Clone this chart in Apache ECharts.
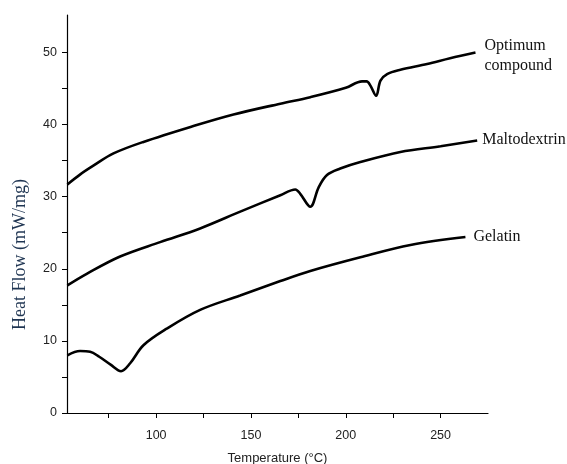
<!DOCTYPE html>
<html>
<head>
<meta charset="utf-8">
<script src="https://cdn.jsdelivr.net/npm/echarts@6/dist/echarts.min.js"></script>
<style>
  html, body { margin: 0; padding: 0; background: #fff; }
  #chart { width: 567px; height: 464px; }
</style>
</head>
<body>
<div id="chart"></div>
<script>
// 读图估计的数据 (温度 °C, 热流 mW/mg)
var optimumT  = [53.2, 60, 66.9, 77.5, 93.3, 119.7, 140.8, 165.5, 181.3, 200, 208.6, 211, 213, 216, 218.3, 221.8, 228.8, 242.9, 255, 268.4];
var optimumHF = [31.7, 33.1, 34.3, 36.0, 37.6, 39.8, 41.4, 42.9, 43.8, 45.1, 46.0, 46.0, 45.4, 44.0, 46.1, 47.0, 47.6, 48.4, 49.2, 50.0];

var maltoT  = [53.2, 63.4, 81, 102.1, 123.2, 145, 165.5, 173.4, 176, 181.3, 185.7, 190.1, 197.1, 207.7, 228.8, 250, 269.3];
var maltoHF = [17.7, 19.3, 21.7, 23.7, 25.6, 28.0, 30.2, 31.0, 30.4, 28.6, 31.3, 33.0, 33.9, 34.8, 36.2, 37.0, 37.8];

var gelatinT  = [53.2, 59.9, 65.2, 70, 76, 81.5, 86.3, 93.3, 105.6, 123.2, 144.3, 165.5, 181.3, 207.7, 234.1, 263.1];
var gelatinHF = [8.0, 8.6, 8.5, 7.8, 6.7, 5.8, 6.9, 9.4, 11.7, 14.3, 16.3, 18.3, 19.7, 21.6, 23.3, 24.4];

var seriesNames = ['Optimum\ncompound', 'Maltodextrin', 'Gelatin'];
var xTicks = [75, 100, 125, 150, 175, 200, 225, 250];
var xLabels = [100, 150, 200, 250];
var yTicks = [0, 5, 10, 15, 20, 25, 30, 35, 40, 45, 50];
var yLabels = [0, 10, 20, 30, 40, 50];

function pairs(xs, ys) {
    var out = [];
    for (var i = 0; i < xs.length; i++) {
        out.push([xs[i], ys[i]]);
    }
    return out;
}

var myChart = echarts.init(document.getElementById('chart'));

var tickFont = ['Liberation Sans Narrow', 'Liberation Sans', 'sans-serif'].join(',');

function lineSeries(name, data, offset) {
    return {
        name: name,
        type: 'line',
        data: data,
        smooth: 0.35,
        symbol: 'none',
        animation: false,
        lineStyle: { color: '#000', width: 2.6 },
        endLabel: {
            show: true,
            formatter: name,
            distance: 6,
            offset: offset,
            fontFamily: 'Liberation Serif',
            fontSize: 16,
            lineHeight: 20,
            color: '#111'
        }
    };
}

var option = {
    backgroundColor: '#fff',
    grid: { left: 67, right: 79, top: 15, bottom: 51, outerBoundsMode: 'none' },
    xAxis: {
        type: 'value',
        min: 53,
        max: 275,
        name: 'Temperature (°C)',
        nameLocation: 'middle',
        nameGap: 39,
        nameTextStyle: { fontFamily: 'Liberation Sans', fontSize: 13, color: '#222' },
        splitLine: { show: false },
        axisLine: { show: true, lineStyle: { color: '#000', width: 1.2 } },
        axisTick: { show: true, customValues: xTicks, length: 5, lineStyle: { color: '#000' } },
        axisLabel: { customValues: xLabels, fontFamily: tickFont, fontSize: 12.5, color: '#222', margin: 16 }
    },
    yAxis: {
        type: 'value',
        min: 0,
        max: 55.2,
        splitLine: { show: false },
        axisLine: { show: true, lineStyle: { color: '#000', width: 1.2 } },
        axisTick: { show: true, customValues: yTicks, length: 5, lineStyle: { color: '#000' } },
        axisLabel: { customValues: yLabels, fontFamily: tickFont, fontSize: 12.5, color: '#222', margin: 10 }
    },
    graphic: [{
        type: 'text',
        left: 11,
        top: 179,
        rotation: Math.PI / 2,
        style: {
            text: 'Heat Flow (mW/mg)',
            fontFamily: 'Liberation Serif',
            fontSize: 18,
            fill: '#1f3552'
        }
    }],
    series: [
        lineSeries(seriesNames[0], pairs(optimumT, optimumHF), [3, 3]),
        lineSeries(seriesNames[1], pairs(maltoT, maltoHF), [-1, -1]),
        lineSeries(seriesNames[2], pairs(gelatinT, gelatinHF), [2, 0])
    ]
};

myChart.setOption(option);
</script>
</body>
</html>
